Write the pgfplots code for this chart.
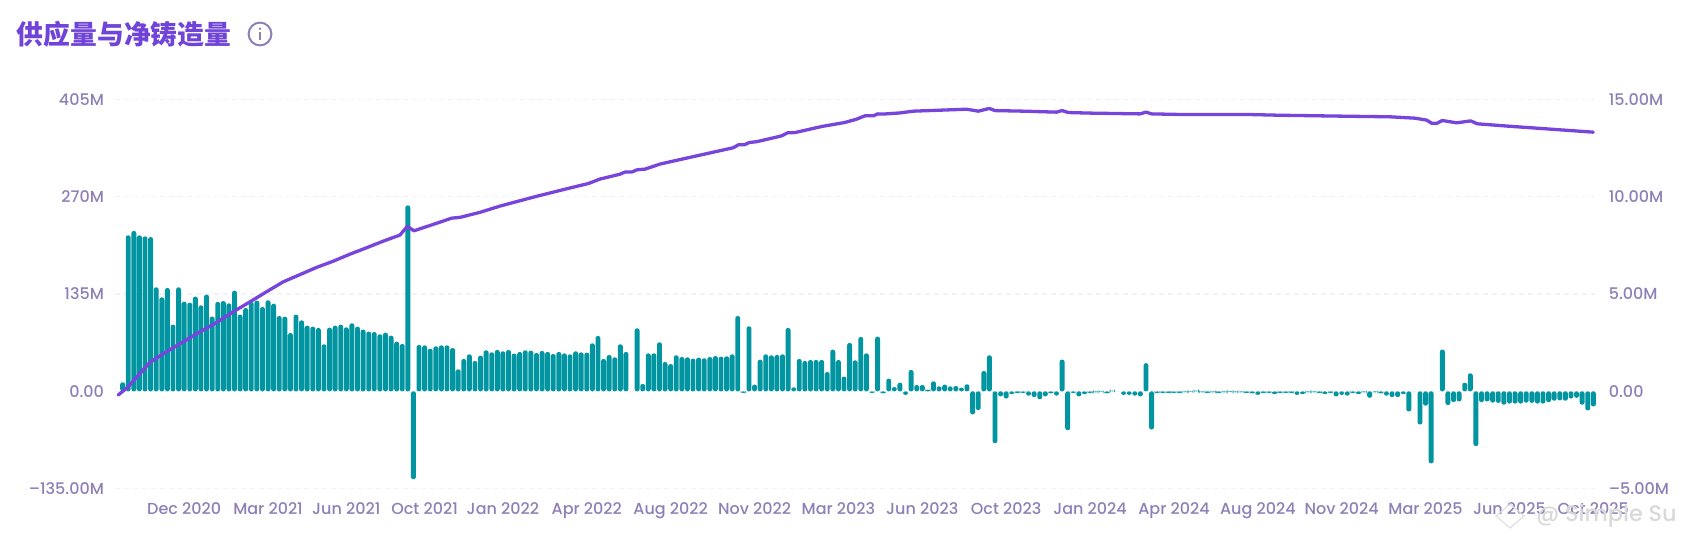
\documentclass[border=0pt]{standalone}
\usepackage{pgfplots}
\pgfplotsset{compat=1.18}
\usepackage{fontspec}
\setmainfont{Poppins Medium}
\newfontfamily\cjk{Noto Sans CJK SC}
\definecolor{barc}{HTML}{0095A0}
\definecolor{linec}{HTML}{7744DC}
\definecolor{tickc}{HTML}{8F7FB7}
\definecolor{gridc}{HTML}{F1F1F9}
\definecolor{titlec}{HTML}{7044D8}
\begin{document}
\begin{tikzpicture}
\useasboundingbox (0pt,0pt) rectangle (841.5pt,270pt);
\begin{axis}[
  at={(57.5pt,25.7pt)}, anchor=south west, scale only axis,
  width=740pt, height=194.55pt,
  xmin=-1.37, xmax=263.3, ymin=-135, ymax=405,
  axis line style={draw=none}, tick style={draw=none}, clip=false,
  ytick={-135,0,135,270,405},
  yticklabels={–135.00M,0.00,135M,270M,405M},
  xtick={11,26,40,54,68,83,98,113,128,143,158,173,188,203,218,233,248,263},
  xticklabels={Dec 2020,Mar 2021,Jun 2021,Oct 2021,Jan 2022,Apr 2022,Aug 2022,Nov 2022,Mar 2023,Jun 2023,Oct 2023,Jan 2024,Apr 2024,Aug 2024,Nov 2024,Mar 2025,Jun 2025,Oct 2025},
  ticklabel style={font=\fontsize{8}{9}\selectfont, text=tickc},
  xticklabel style={yshift=-3.4pt},
  yticklabel style={xshift=-2pt},
  ymajorgrids, grid style={gridc, line width=0.6pt, dash pattern=on 2.5pt off 2pt},
]
\addplot[ybar, bar width=2.45pt, fill=barc, draw=none, rounded corners=1.1pt] coordinates {
(0,12.5)(1,216.5)(2,222.5)(3,216.5)(4,215)(5,214)(6,144.3)(7,130.4)(8,143.4)(9,92.5)
(10,144.3)(11,124.4)(12,123)(13,131.4)(14,119.3)(15,134.1)(16,103.6)(17,124)(18,125.3)(19,122.1)
(20,139.7)(21,106.4)(22,115.6)(23,124)(24,125.8)(25,117)(26,126.3)(27,121.6)(28,104.5)(29,103.6)
(30,80.9)(31,106.4)(32,98.5)(33,91.1)(34,89.7)(35,87.9)(36,65.2)(37,88.3)(38,91.1)(39,92.5)
(40,88.8)(41,94.4)(42,89.7)(43,85.6)(44,82.8)(45,82.3)(46,79.1)(47,81.4)(48,77.2)(49,68.9)
(50,65.7)(51,258)(52,-122)(53,64.3)(54,63.8)(55,59.2)(56,62.4)(57,63.8)(58,63.8)(59,60.1)
(60,30.5)(61,44.9)(62,51.3)(63,42.1)(64,49.5)(65,56.9)(66,54.1)(67,57.4)(68,55.5)(69,57.4)
(70,52.3)(71,54.6)(72,56.9)(73,56.4)(74,53.2)(75,56)(76,54.6)(77,51.8)(78,54.6)(79,52.7)
(80,51.3)(81,55.5)(82,54.1)(83,53.6)(84,66.6)(85,76.8)(86,44.9)(87,50.4)(88,47.2)(89,65.2)
(90,54.6)(92,87.4)(93,10.2)(94,52.7)(95,52.7)(96,68)(97,40.7)(98,37.9)(99,50)
(100,47.6)(101,47.2)(102,45.3)(103,46.7)(104,45.8)(105,47.6)(106,49)(107,48.1)(108,48.6)(109,51.3)
(110,104.5)(111,-2.3)(112,90.2)(113,9.3)(114,43.9)(115,51.3)(116,50)(117,50.4)(118,51.3)(119,87.9)
(120,5.6)(121,44.9)(122,42.1)(123,43.5)(124,43.5)(125,43.5)(126,26.8)(127,57.8)(128,43.5)(129,20.4)
(130,67.1)(131,43)(132,75.4)(133,52.7)(134,-2.5)(135,75.9)(136,-3)(137,17.6)(138,6)(139,12)
(140,-5)(141,29.6)(142,8.8)(143,8.8)(144,2.5)(145,13.9)(146,6.9)(147,9.3)(148,6.9)(149,7.4)
(150,5.1)(151,9.7)(152,-32)(153,-26)(154,28.2)(155,50)(156,-72)(157,-7)(158,-10)(159,-4)
(160,-2.5)(161,-2.5)(162,-6)(163,-8)(164,-11)(165,-7)(166,-3)(167,-6)(168,44)(169,-54)
(170,-2.5)(171,-7)(172,-4)(173,-2.5)(174,-1.5)(175,-1)(176,-3)(177,1)(179,-5)
(180,-5)(181,-6)(182,-7)(183,39)(184,-53)(185,-2.5)(186,-2.5)(187,-2.5)(188,-2.5)(189,-2.5)
(190,-1.5)(191,-1)(192,1)(193,-1.5)(194,-2.5)(195,-1.5)(196,-2.5)(197,-1.5)(198,-1)(199,-1.5)
(200,-1.5)(201,-2.5)(202,-3)(203,-5)(204,-2.5)(205,-2.5)(206,-4)(207,-2.5)(208,-2.5)(209,-2.5)
(210,-5)(211,-4)(212,-1.5)(213,-1.5)(214,-2.5)(215,-4)(216,-2.5)(217,-7)(218,-5)(219,-6)
(220,-2.5)(221,-4)(222,-1.5)(223,-9)(224,-1.5)(225,-3)(226,-6)(227,-8)(228,-8)(229,-4)
(230,-28)(232,-46)(233,-20)(234,-100)(236,58)(237,-19)(238,-15)(239,-14)
(240,12)(241,25)(242,-76)(243,-15)(244,-14)(245,-15.7)(246,-16)(247,-18.5)(248,-17)(249,-17)
(250,-17)(251,-15.7)(252,-16)(253,-17)(254,-17)(255,-15)(256,-13)(257,-12.5)(258,-13)(259,-10)
(260,-9)(261,-18.5)(262,-26.5)(263,-21)
};
\end{axis}
\begin{axis}[
  at={(57.5pt,25.7pt)}, anchor=south west, scale only axis,
  width=740pt, height=194.55pt,
  xmin=-1.37, xmax=263.3, ymin=-5, ymax=15,
  axis x line=none, axis y line*=right,
  axis line style={draw=none}, tick style={draw=none}, clip=false,
  ytick={-5,0,5,10,15},
  yticklabels={–5.00M,0.00,5.00M,10.00M,15.00M},
  ticklabel style={font=\fontsize{8}{9}\selectfont, text=tickc},
  yticklabel style={xshift=3.4pt, anchor=west},
]
\addplot[linec, line width=1.65pt, line join=round, line cap=round] coordinates {
(-0.78,-0.19)(1.01,0.24)(3.10,0.92)(4.89,1.49)(7.87,2.04)(10.85,2.55)(13.83,3.06)(16.81,3.54)
(19.79,4.09)(22.77,4.6)(25.75,5.12)(28.73,5.63)(31.71,6.0)(34.69,6.37)(37.67,6.69)(40.65,7.05)
(43.63,7.38)(46.61,7.72)(49.59,8.03)(50.9,8.48)(52.1,8.25)(55.55,8.58)(58.83,8.9)(60.32,8.94)
(63.9,9.2)(67.47,9.52)(73.44,9.98)(79.4,10.41)(83.27,10.68)(85.36,10.91)(88.94,11.16)(89.83,11.27)
(91.02,11.27)(92.03,11.39)(93.41,11.42)(96.09,11.68)(100.26,11.95)(109.2,12.52)(110.1,12.67)
(111.17,12.67)(112.07,12.79)(113.38,12.83)(117.85,13.13)(118.92,13.29)(120.23,13.3)(124.99,13.61)
(129.17,13.82)(131.26,13.99)(132.75,14.16)(134.24,14.16)(135.02,14.26)(136.03,14.25)(139.01,14.31)
(141.39,14.4)(146.16,14.45)(150.93,14.5)(153.02,14.4)(154.98,14.54)(155.99,14.43)(161.06,14.4)
(167.02,14.35)(167.98,14.43)(169.11,14.33)(172.98,14.3)(181.93,14.26)(183.0,14.35)(184.01,14.26)
(189.08,14.23)(201.0,14.23)(206.96,14.19)(218.89,14.14)(226.64,14.11)(231.1,14.04)(233.19,13.94)
(234.08,13.78)(234.98,13.77)(235.99,13.92)(238.56,13.8)(241.06,13.9)(242.25,13.75)(248.69,13.61)
(254.65,13.49)(262.99,13.32)
};
\end{axis}
\node[anchor=west, inner sep=0pt, text=titlec] at (8.3pt,253pt) {\fontsize{13.4}{15}\selectfont\cjk\bfseries 供应量与净铸造量};
\draw[tickc, line width=1pt] (130pt,253pt) circle (5.7pt);
\fill[tickc] (130pt,255.6pt) circle (0.65pt);
\draw[tickc, line width=1.1pt] (130pt,250pt) -- (130pt,253.8pt);
\node[anchor=west, inner sep=0pt, text=gray!30, font=\fontsize{11.2}{12}\selectfont] at (768pt,12pt) {@ Simple Su};
\draw[gray!25, line width=0.6pt] (755pt,6pt) -- (762pt,12pt) -- (755pt,18pt) -- (748pt,12pt) -- cycle;
\end{tikzpicture}
\end{document}
